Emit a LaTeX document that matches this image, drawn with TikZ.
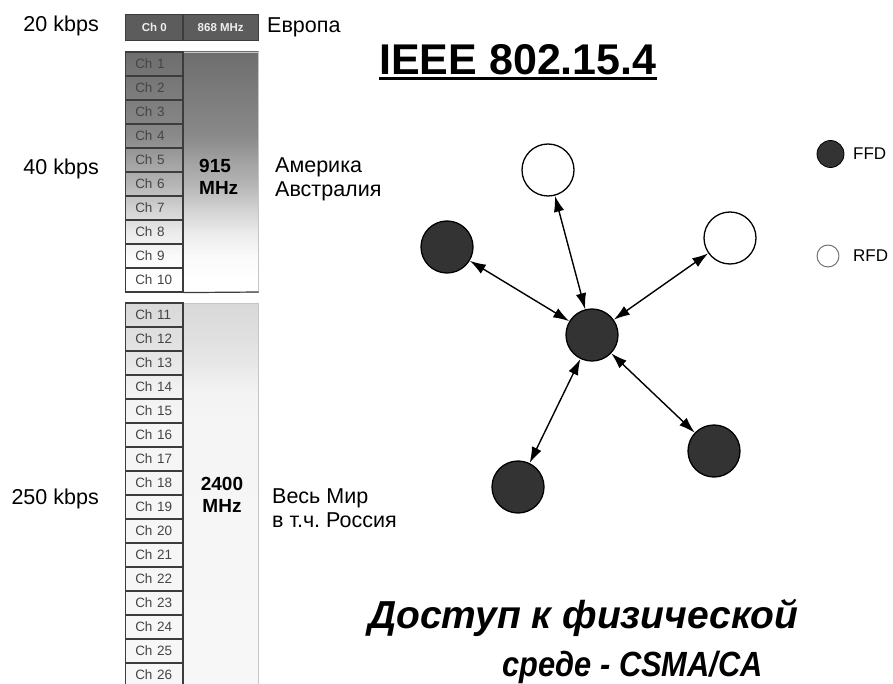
\documentclass[tikz,border=0pt]{standalone}
\usepackage{fontspec}
\usepackage{graphicx}
\setmainfont{Liberation Sans}
\usetikzlibrary{arrows.meta}

\definecolor{nodedark}{HTML}{333333}
\definecolor{cellline}{HTML}{3C3C3C}
\definecolor{chtext}{HTML}{454545}
\definecolor{barfill}{HTML}{5C5C5C}
\definecolor{bartext}{HTML}{EEEEEE}

\tikzset{
  chcell/.style={rectangle, draw=cellline, line width=1.2pt,
    minimum width=57.5pt, minimum height=24pt, text width=38pt,
    inner xsep=9.75pt, inner ysep=0pt, align=left, text=chtext,
    font=\fontsize{13.5}{14}\selectfont},
  barcell/.style={rectangle, draw=cellline, fill=barfill, line width=1.2pt,
    minimum height=26pt, inner sep=0pt, text=bartext,
    font=\bfseries\fontsize{11.5}{12}\selectfont},
  lbl/.style={inner sep=0pt, font=\fontsize{21.5}{24}\selectfont},
  band/.style={inner sep=0pt, font=\bfseries\fontsize{19}{22}\selectfont},
  ffd/.style={circle, draw=black, line width=1.3pt, fill=nodedark,
    minimum size=52pt, inner sep=0pt},
  rfd/.style={circle, draw=black, line width=1.3pt, fill=white,
    minimum size=52pt, inner sep=0pt},
  link/.style={<->, >={Latex[length=16pt,width=10.5pt]}, line width=1.4pt},
  access/.style={inner sep=0pt, anchor=base west,
    font=\bfseries\itshape\fontsize{39}{40}\selectfont},
}

\begin{document}
\begin{tikzpicture}[x=1pt, y=-1pt]
\useasboundingbox[fill=white] (0,0) rectangle (893,684);

% --- 915 MHz band: shaded background, dark at the top ---
\foreach \ya/\pa/\yb/\pb in {52/57/136/46, 136/46/160/37, 160/37/184/29,
    184/29/208/18, 208/18/232/8, 232/8/256/2, 256/2/280/0, 280/0/292/0}
  \shade[top color=black!\pa!white, bottom color=black!\pb!white]
    (125.5,\ya) rectangle (258.5,\yb+1);
\draw[gray!45, line width=0.8pt] (125.5,52) rectangle (258.5,292);

% --- 2400 MHz band: light shading ---
\foreach \ya/\pa/\yb/\pb in {303/15/340/12, 340/12/365/9, 365/9/390/5,
    390/5/420/4, 420/4/690/3}
  \shade[top color=black!\pa!white, bottom color=black!\pb!white]
    (125.5,\ya) rectangle (258.5,\yb+1);
\draw[gray!45, line width=0.8pt] (125.5,303) rectangle (258.5,690);

% --- channel cells ---
\foreach \i in {1,...,10}
  \node[chcell] (ch\i) at (154.25, 40+24*\i) {Ch \i};
\foreach \i in {11,...,26}
  \node[chcell] (ch\i) at (154.25, 315+24*\i-264) {Ch \i};
\draw[cellline, line width=1.2pt] (ch10.south east) -- (258.5,292);

% --- 868 MHz channel ---
\node[barcell, minimum width=57.5pt] (ch0) at (154.25,27.5) {Ch 0};
\node[barcell, minimum width=75.5pt] (f868) at (220.75,27.5) {868 MHz};

% --- band labels (base anchor sits on the last line) ---
\node[band, align=left, anchor=base west] (b915) at (199,195) {915\\MHz};
\node[band, align=center, anchor=base] (b2400) at (222,512) {2400\\MHz};

% --- data rates ---
\node[lbl, anchor=base east] (r20) at (99,32) {20 kbps};
\node[lbl, anchor=base east] (r40) at (99,175) {40 kbps};
\node[lbl, anchor=base east] (r250) at (99,504) {250 kbps};

% --- regions ---
\node[lbl, anchor=base west] (eu) at (267,33) {Европа};
\node[lbl, anchor=base west, align=left] (am) at (275,197) {Америка\\Австралия};
\node[lbl, anchor=base west, align=left] (ww) at (272,527) {Весь Мир\\в т.ч.\ Россия};

% --- title ---
\node[inner sep=0pt, anchor=base, font=\bfseries\fontsize{43}{46}\selectfont]
  (title) at (518,75) {IEEE 802.15.4};
\draw[line width=3pt] ([yshift=-4pt]title.base west) -- ([yshift=-4pt]title.base east);

% --- star topology ---
\node[ffd] (hub) at (592,335) {};
\node[rfd] (top) at (548,170) {};
\node[rfd] (ur) at (730,238) {};
\node[ffd] (left) at (447,247) {};
\node[ffd] (bottom) at (518,487) {};
\node[ffd] (lr) at (714,451) {};
\foreach \n in {top, ur, left, bottom, lr}
  \draw[link] (hub) -- (\n);

% --- legend ---
\node[ffd, minimum size=27pt, line width=0.8pt] (legffd) at (830.5,154) {};
\node[inner sep=0pt, anchor=base west, font=\fontsize{17}{18}\selectfont]
  (legffdtext) at (853,160) {FFD};
\node[circle, draw=black!60, line width=0.9pt, minimum size=22pt, inner sep=0pt]
  (legrfd) at (828,256) {};
\node[inner sep=0pt, anchor=base west, font=\fontsize{17}{18}\selectfont]
  (legrfdtext) at (853,262) {RFD};

% --- medium access ---
\node[access] (acc1) at (368,628) {Доступ к физической};
\node[access, font=\bfseries\itshape\fontsize{35}{36}\selectfont]
  (acc2) at (502,676) {\scalebox{0.88}[1]{среде - CSMA/CA}};
\end{tikzpicture}
\end{document}
